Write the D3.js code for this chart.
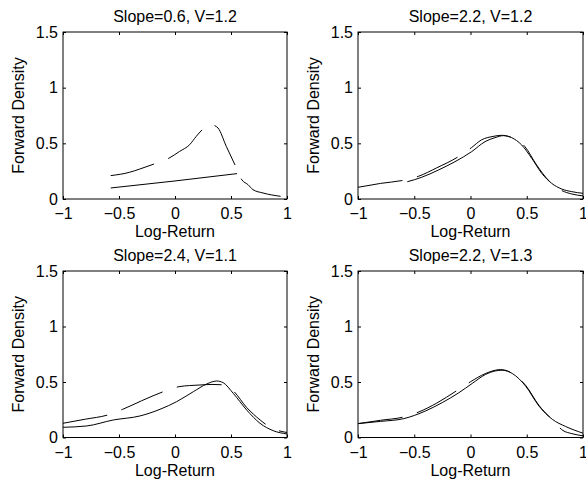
<!DOCTYPE html>
<html>
<head>
<meta charset="utf-8">
<script src="https://cdn.jsdelivr.net/npm/d3@7"></script>
<style>
  body { margin: 0; background: white; }
  svg { display: block; font-family: Arial, 'Liberation Sans', Helvetica, sans-serif; }
</style>
</head>
<body>
<svg id="chart" width="586" height="487"></svg>
<script>
// panel titles and tick labels
const titles = ['Slope=0.6, V=1.2', 'Slope=2.2, V=1.2', 'Slope=2.4, V=1.1', 'Slope=2.2, V=1.3']
const xTicks = [-1, -0.5, 0, 0.5, 1]
const yTicks = [0, 0.5, 1, 1.5]

// [log-return, density]
const p1Solid = [[-0.574, 0.099], [0, 0.162], [0.554, 0.228]]
const p1Dashed = [[-0.574, 0.21], [-0.405, 0.24], [-0.315, 0.269], [-0.188, 0.314], [-0.057, 0.365],
  [0.042, 0.428], [0.131, 0.488], [0.19, 0.563], [0.244, 0.623], [0.3, 0.672], [0.354, 0.659],
  [0.384, 0.638], [0.458, 0.473], [0.539, 0.299], [0.598, 0.171], [0.652, 0.129], [0.696, 0.084],
  [0.786, 0.054], [0.943, 0.024]]

const p2Solid = [[-0.562, 0.155], [-0.434, 0.195], [-0.286, 0.26], [-0.138, 0.335], [0.01, 0.425],
  [0.129, 0.515], [0.218, 0.551], [0.292, 0.569], [0.366, 0.551], [0.455, 0.485], [0.544, 0.366],
  [0.633, 0.231], [0.721, 0.141], [0.81, 0.09], [0.9, 0.066], [1, 0.051]]
const p2Dashed = [[-1, 0.105], [-0.8, 0.14], [-0.582, 0.171], [-0.46, 0.205], [-0.3, 0.28],
  [-0.108, 0.38], [0.008, 0.461], [0.096, 0.53], [0.2, 0.562], [0.276, 0.572], [0.35, 0.558],
  [0.484, 0.47], [0.588, 0.305], [0.7, 0.16], [0.8, 0.082], [0.9, 0.045], [1, 0.028]]

const p3Solid = [[-1, 0.092], [-0.788, 0.104], [-0.55, 0.158], [-0.313, 0.194], [-0.134, 0.254],
  [0.015, 0.323], [0.164, 0.413], [0.283, 0.482], [0.372, 0.509], [0.43, 0.494], [0.52, 0.398],
  [0.64, 0.248], [0.759, 0.128], [0.878, 0.061], [1, 0.032]]
const p3Dashed = [[-1, 0.128], [-0.8, 0.165], [-0.6, 0.203], [-0.467, 0.254], [-0.3, 0.33],
  [-0.104, 0.413], [0.036, 0.458], [0.13, 0.468], [0.223, 0.473], [0.33, 0.478], [0.42, 0.475],
  [0.52, 0.42], [0.64, 0.27], [0.76, 0.158], [0.818, 0.113], [0.9, 0.07], [1, 0.045]]

const p4Solid = [[-1, 0.125], [-0.8, 0.145], [-0.593, 0.17], [-0.4, 0.239], [-0.252, 0.314],
  [-0.104, 0.403], [0.015, 0.487], [0.134, 0.568], [0.223, 0.6], [0.282, 0.606], [0.371, 0.577],
  [0.49, 0.463], [0.608, 0.284], [0.727, 0.164], [0.846, 0.099], [1, 0.039]]
const p4Dashed = [[-1, 0.125], [-0.8, 0.155], [-0.593, 0.185], [-0.46, 0.23], [-0.3, 0.31],
  [-0.119, 0.424], [0, 0.502], [0.13, 0.575], [0.267, 0.612], [0.35, 0.59], [0.49, 0.47],
  [0.608, 0.29], [0.727, 0.16], [0.822, 0.063], [0.9, 0.035], [1, 0.015]]

const panels = [
  { title: titles[0], solid: p1Solid, dashed: p1Dashed, left: 63, right: 287, top: 32, bottom: 199 },
  { title: titles[1], solid: p2Solid, dashed: p2Dashed, left: 358, right: 583, top: 32, bottom: 199 },
  { title: titles[2], solid: p3Solid, dashed: p3Dashed, left: 63, right: 287, top: 271, bottom: 437.5 },
  { title: titles[3], solid: p4Solid, dashed: p4Dashed, left: 358, right: 583, top: 271, bottom: 437.5 }
]

const svg = d3.select('#chart')

function drawPanel (p) {
  const w = p.right - p.left
  const h = p.bottom - p.top
  const x = d3.scaleLinear().domain([-1, 1]).range([0, w])
  const y = d3.scaleLinear().domain([0, 1.5]).range([h, 0])

  const g = svg.append('g').attr('transform', `translate(${p.left},${p.top})`)

  // inward ticks on all four sides, labels only bottom / left
  const bottom = g.append('g').attr('transform', `translate(0,${h})`)
    .call(d3.axisBottom(x).tickValues(xTicks).tickFormat(d3.format('')).tickSizeInner(-3).tickSizeOuter(0).tickPadding(9))
  const left = g.append('g')
    .call(d3.axisLeft(y).tickValues(yTicks).tickFormat(d3.format('')).tickSizeInner(-3).tickSizeOuter(0).tickPadding(5))
  g.append('g')
    .call(d3.axisTop(x).tickValues(xTicks).tickFormat('').tickSizeInner(-3).tickSizeOuter(0))
  g.append('g').attr('transform', `translate(${w},0)`)
    .call(d3.axisRight(y).tickValues(yTicks).tickFormat('').tickSizeInner(-3).tickSizeOuter(0))

  g.selectAll('.domain').remove()
  g.selectAll('.tick line').attr('stroke', '#000')
  bottom.selectAll('text').style('font-size', '16px').attr('fill', '#000')
  left.selectAll('text').style('font-size', '16px').attr('fill', '#000')

  const line = d3.line()
    .x(d => x(d[0]))
    .y(d => y(d[1]))
    .curve(d3.curveMonotoneX)

  g.append('path')
    .datum(p.solid)
    .attr('d', line)
    .attr('fill', 'none')
    .attr('stroke', '#000')
    .attr('stroke-width', 1)

  g.append('path')
    .datum(p.dashed)
    .attr('d', line)
    .attr('fill', 'none')
    .attr('stroke', '#000')
    .attr('stroke-width', 1)
    .attr('stroke-dasharray', '45,15')

  g.append('rect')
    .attr('width', w)
    .attr('height', h)
    .attr('fill', 'none')
    .attr('stroke', '#000')
    .attr('stroke-width', 1)

  g.append('text')
    .attr('x', w / 2)
    .attr('y', -10)
    .attr('text-anchor', 'middle')
    .style('font-size', '16px')
    .text(p.title)

  g.append('text')
    .attr('x', w / 2)
    .attr('y', h + 38)
    .attr('text-anchor', 'middle')
    .style('font-size', '16px')
    .text('Log-Return')

  g.append('text')
    .attr('transform', `translate(-39,${h / 2}) rotate(-90)`)
    .attr('text-anchor', 'middle')
    .style('font-size', '16px')
    .text('Forward Density')
}

panels.forEach(drawPanel)
</script>
</body>
</html>
